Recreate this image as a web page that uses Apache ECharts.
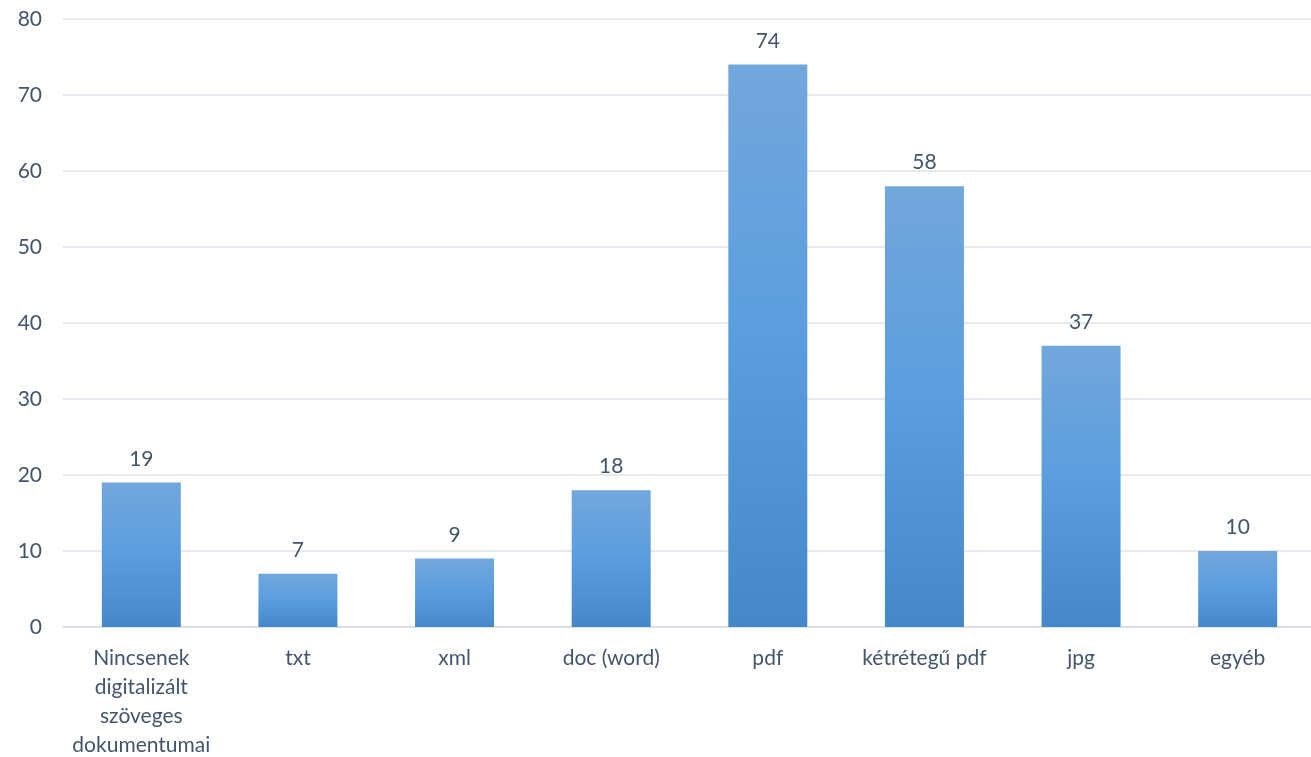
<!DOCTYPE html>
<html><head><meta charset="utf-8">
<script src="https://cdn.jsdelivr.net/npm/echarts@6/dist/echarts.min.js"></script>
<style>html,body{margin:0;padding:0;background:#fff;overflow:hidden}#c{width:1311px;height:757px}</style>
</head><body><div id="c"></div>
<script>
const categories = ["Nincsenek\ndigitalizált\nszöveges\ndokumentumai","txt","xml","doc (word)","pdf","kétrétegű pdf","jpg","egyéb"];
const values = [19,7,9,18,74,58,37,10];
const yTicks = {min:0,max:80,interval:10};
const chart = echarts.init(document.getElementById('c'));
const txt = '#44546a';
const font = 'Lato, "Open Sans", sans-serif';
chart.setOption({
  animation:false,
  grid:{left:63,width:1253,top:19,bottom:130,outerBoundsMode:'none',containLabel:false},
  xAxis:{type:'category',data:categories,
    axisLine:{lineStyle:{color:'#d9dde5',width:1.5}},axisTick:{show:false},
    axisLabel:{color:txt,fontSize:21,fontFamily:font,margin:17,lineHeight:29,interval:0}},
  yAxis:{type:'value',min:yTicks.min,max:yTicks.max,interval:yTicks.interval,
    axisLine:{show:false},axisTick:{show:false},
    splitLine:{lineStyle:{color:'#dfe2e9',width:1.5}},
    axisLabel:{color:txt,fontSize:21,fontFamily:font,margin:21}},
  series:[{type:'bar',data:values,barWidth:79,
    itemStyle:{color:new echarts.graphic.LinearGradient(0,0,0,1,[
      {offset:0,color:'#72a7db'},{offset:0.5,color:'#5a9ddf'},{offset:1,color:'#4588c8'}])},
    label:{show:true,position:'top',distance:13,color:txt,fontSize:21,fontFamily:font}}]
});
</script></body></html>
